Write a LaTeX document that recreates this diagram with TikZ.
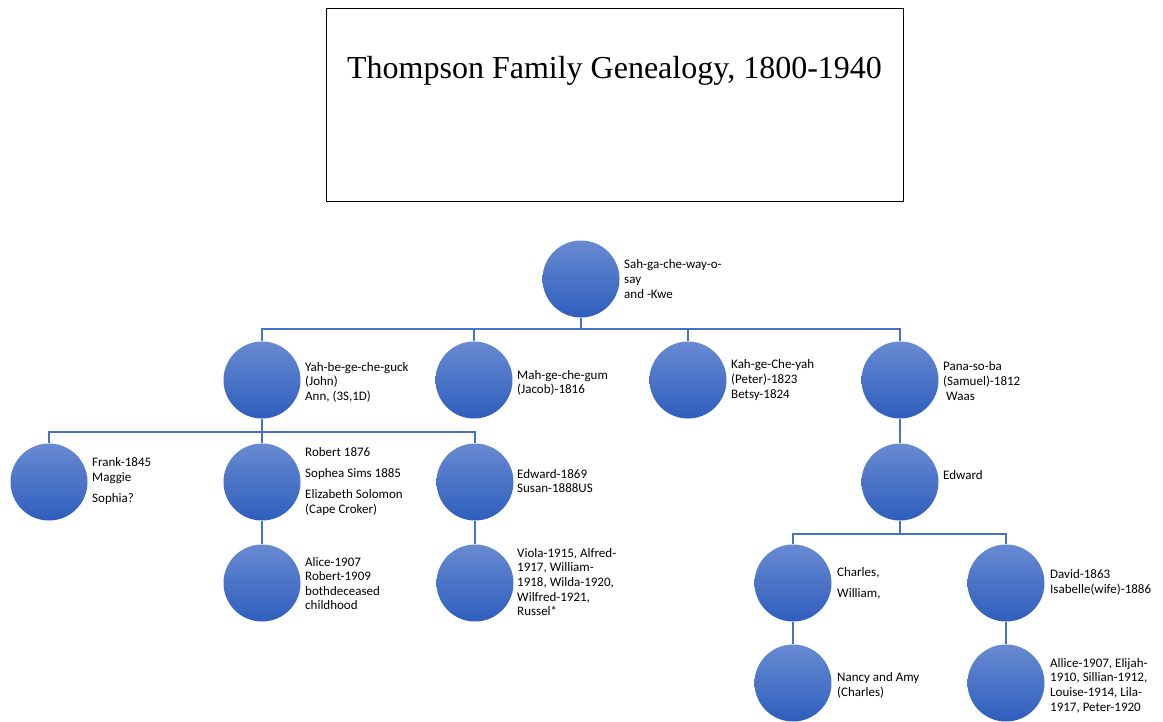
\documentclass[tikz,border=0pt]{standalone}
\usepackage{fontspec}
\setmainfont{Carlito}
\newfontfamily\titlefont{Liberation Serif}
\definecolor{circtop}{RGB}{104,138,210}
\definecolor{circbot}{RGB}{46,94,188}
\definecolor{linkcol}{RGB}{68,114,196}
\begin{document}
\begin{tikzpicture}[x=1pt,y=-1pt,
  person/.style={circle,minimum size=77pt,inner sep=0pt,draw=none,top color=circtop,bottom color=circbot},
  lbl/.style={anchor=west,align=left,inner sep=0pt,font=\fontsize{13}{14.6}\selectfont},
  conn/.style={draw=linkcol,line width=1.3pt},
  titlebox/.style={draw=black,line width=0.9pt}]
\fill[white] (0,0) rectangle (1163,721);
\useasboundingbox (0,0) rectangle (1163,721);
% title
\draw[titlebox] (326,8) rectangle (903,201);
\node[anchor=base,inner sep=0pt,font=\titlefont\fontsize{32}{36}\selectfont] (title) at (614.5,78) {Thompson Family Genealogy, 1800-1940};
% circles
\node[person] (sah) at (581,279) {};
\node[person] (yah) at (262,380) {};
\node[person] (mah) at (474,380) {};
\node[person] (kah) at (688,380) {};
\node[person] (pana) at (900,380) {};
\node[person] (frank) at (49,482) {};
\node[person] (robert) at (262,482) {};
\node[person] (edward) at (475,482) {};
\node[person] (edw2) at (900,482) {};
\node[person] (alice) at (262,583) {};
\node[person] (viola) at (475,583) {};
\node[person] (charles) at (793,583) {};
\node[person] (david) at (1006,583) {};
\node[person] (nancy) at (793,683) {};
\node[person] (allice) at (1006,683) {};
% bar coordinates
\coordinate (b1) at (581,329);
\coordinate (b2) at (262,432);
\coordinate (b3) at (900,534);
% connectors
\draw[conn] (sah.south) -- (b1);
\draw[conn] (yah.north) |- (b1) -| (pana.north);
\draw[conn] (mah.north) -- (mah.north |- b1);
\draw[conn] (kah.north) -- (kah.north |- b1);
\draw[conn] (yah.south) -- (b2);
\draw[conn] (frank.north) |- (b2) -| (edward.north);
\draw[conn] (robert.north) -- (b2);
\draw[conn] (robert.south) -- (alice.north);
\draw[conn] (edward.south) -- (viola.north);
\draw[conn] (pana.south) -- (edw2.north);
\draw[conn] (edw2.south) -- (b3);
\draw[conn] (charles.north) |- (b3) -| (david.north);
\draw[conn] (charles.south) -- (nancy.north);
\draw[conn] (david.south) -- (allice.north);
% labels
\node[lbl] (tsah) at (624,279) {Sah-ga-che-way-o-\\say\\and -Kwe};
\node[lbl] (tyah) at (305,382) {Yah-be-ge-che-guck\\(John)\\Ann, (3S,1D)};
\node[lbl] (tmah) at (517,383) {Mah-ge-che-gum\\(Jacob)-1816};
\node[lbl] (tkah) at (731,380) {Kah-ge-Che-yah\\(Peter)-1823\\Betsy-1824};
\node[lbl] (tpana) at (943,381) {Pana-so-ba\\(Samuel)-1812\\\hspace*{3pt}Waas};
\node[lbl] (tfrank) at (92,481) {Frank-1845\\Maggie\\[6pt]Sophia?};
\node[lbl] (trobert) at (305,481.5) {Robert 1876\\[6.5pt]Sophea Sims 1885\\[6.5pt]Elizabeth Solomon\\(Cape Croker)};
\node[lbl] (tedward) at (517,481) {Edward-1869\\Susan-1888US};
\node[lbl] (tedw2) at (943,475) {Edward};
\node[lbl] (talice) at (305,583.5) {Alice-1907\\Robert-1909\\bothdeceased\\childhood};
\node[lbl] (tviola) at (517,582) {Viola-1915, Alfred-\\1917, William-\\1918, Wilda-1920,\\Wilfred-1921,\\Russel*};
\node[lbl] (tcharles) at (837,583.5) {Charles,\\[6.5pt]William,};
\node[lbl] (tdavid) at (1050,582.5) {David-1863\\Isabelle(wife)-1886};
\node[lbl] (tnancy) at (837,685.5) {Nancy and Amy\\(Charles)};
\node[lbl] (tallice) at (1050,685.5) {Allice-1907, Elijah-\\1910, Sillian-1912,\\Louise-1914, Lila-\\1917, Peter-1920};
\end{tikzpicture}
\end{document}
